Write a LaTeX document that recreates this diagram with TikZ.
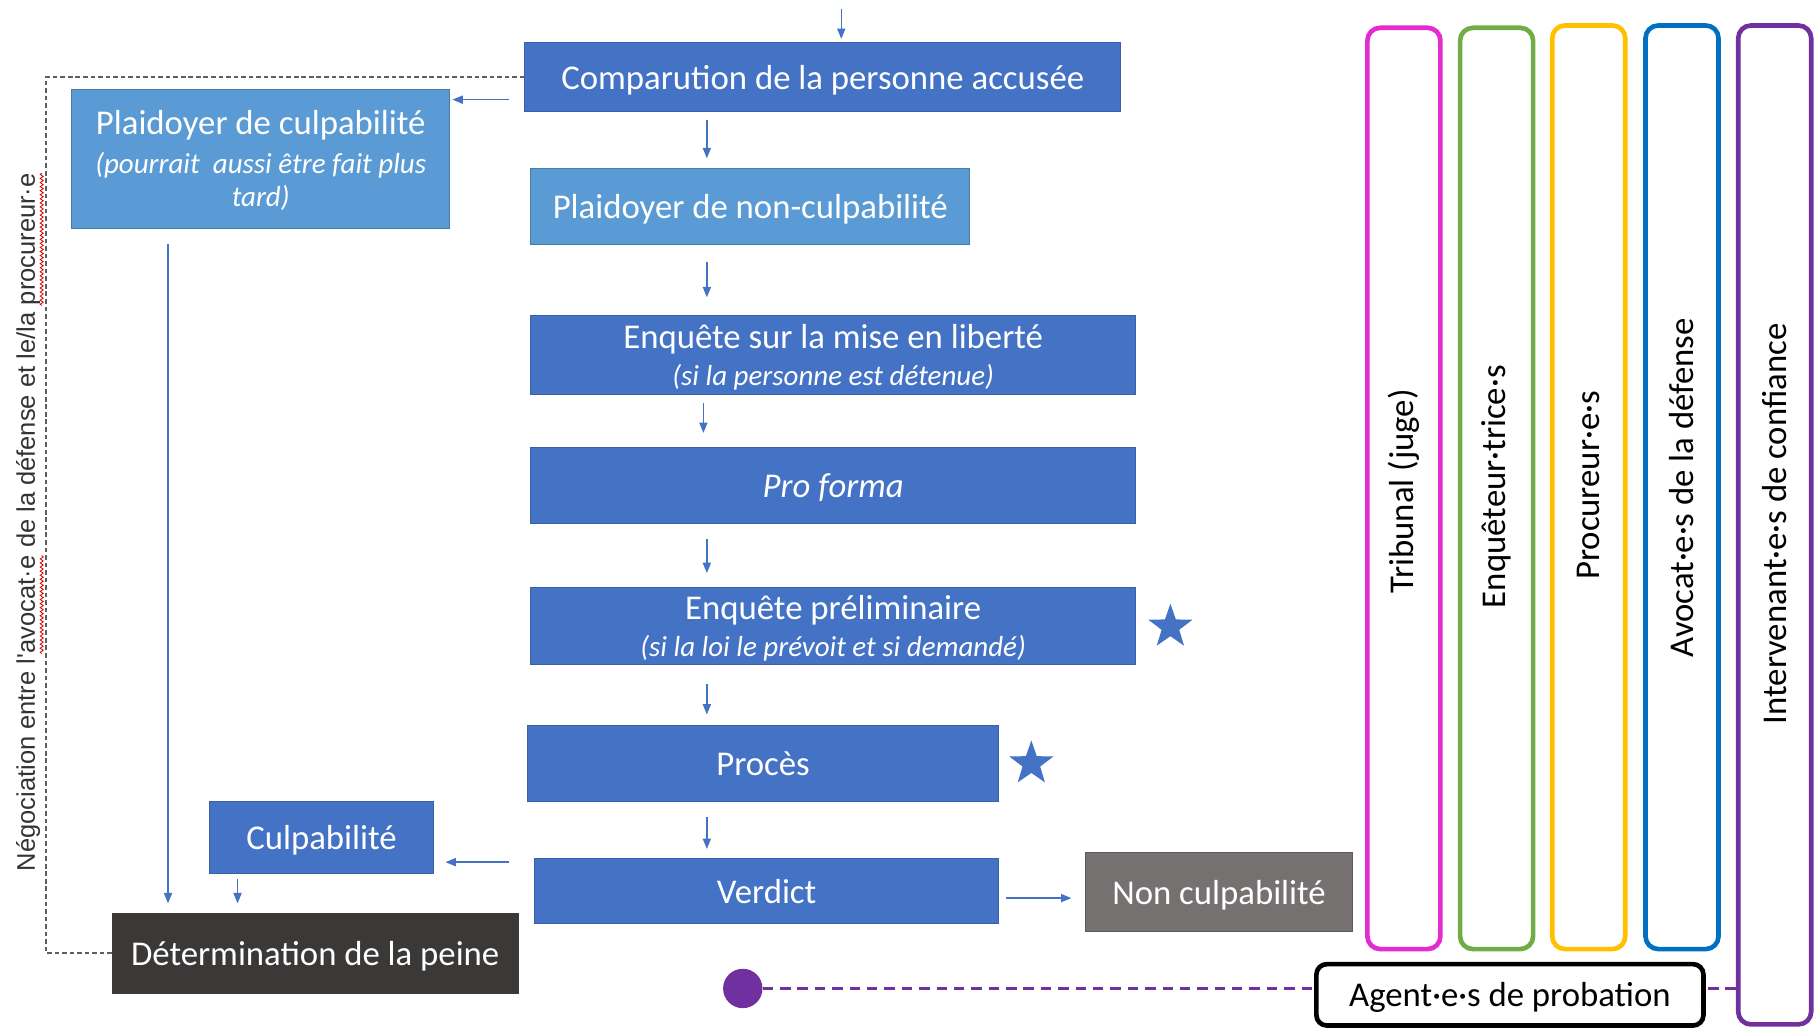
\documentclass[tikz,border=0pt]{standalone}
\usepackage{fontspec}
\setmainfont{Carlito}
\newfontfamily\arialf{Liberation Sans}
\usetikzlibrary{shapes.geometric,arrows.meta,calc,decorations.pathmorphing}
\definecolor{dblue}{HTML}{4472C4}
\definecolor{lblue}{HTML}{5B9BD5}
\definecolor{darkbox}{HTML}{3B3838}
\definecolor{graybox}{HTML}{767171}
\definecolor{magentaL}{HTML}{E42BD0}
\definecolor{greenL}{HTML}{70AD47}
\definecolor{yellowL}{HTML}{FFC000}
\definecolor{blueL}{HTML}{0070C0}
\definecolor{purpleL}{HTML}{7030A0}
\definecolor{negtext}{HTML}{333333}
\definecolor{dashgray}{HTML}{5F5F5F}
\newcommand\subtf{\fontsize{25}{30}\selectfont\itshape}
\begin{document}
\begin{tikzpicture}[x=1pt,y=-1pt,
  mainfont/.style={font=\fontsize{30}{34}\selectfont},
  box/.style={draw=dblue!85!black, line width=0.8pt, fill=dblue, text=white, inner sep=0pt, align=center, mainfont, text depth=0pt},
  lbox/.style={box, draw=lblue!80!black, fill=lblue},
  arr/.style={draw=dblue, line width=1.3pt, -{Triangle[length=9pt,width=7pt]}},
  lane/.style={draw=#1, line width=4pt, rounded corners=11pt, inner sep=0pt, minimum width=63pt},
  lanetext/.style={rotate=90, text=black, inner sep=0pt, mainfont},
  negt/.style={rotate=90, text=negtext, inner sep=0pt, font=\arialf\fontsize{22}{26}\selectfont},
  wavy/.style={draw=red!85!black, line width=0.7pt, decorate, decoration={snake, amplitude=1.3pt, segment length=3.5pt}},
  staricon/.style={star, star points=5, star point ratio=2.5, fill=dblue, inner sep=0pt, minimum size=40pt}
]
\useasboundingbox (0,0) rectangle (1568,888);
\clip (0,0) rectangle (1568,888);

% main flow boxes
\node[box, minimum width=514pt, minimum height=59pt] (comp) at (710,66.5) {Comparution de la personne accusée};
\node[lbox, minimum width=326pt, minimum height=120pt] (pcul) at (225,137)
  {Plaidoyer de culpabilité\\[-1pt]{\subtf (pourrait\ \ aussi être fait plus}\\[-5pt]{\subtf tard)}};
\node[lbox, minimum width=379pt, minimum height=66pt] (pnon) at (647.5,178) {Plaidoyer de non-culpabilité};
\node[box, minimum width=522pt, minimum height=68pt] (lib) at (719,306)
  {Enquête sur la mise en liberté\\[-2pt]{\subtf (si la personne est détenue)}};
\node[box, minimum width=522pt, minimum height=66pt] (prof) at (719,419) {\itshape Pro forma};
\node[box, minimum width=522pt, minimum height=66pt] (prel) at (719,540)
  {Enquête préliminaire\\[-2pt]{\subtf (si la loi le prévoit et si demandé)}};
\node[box, minimum width=407pt, minimum height=66pt] (proc) at (658.5,659) {Procès};
\node[box, minimum width=401pt, minimum height=56pt] (verd) at (661.5,769) {Verdict};
\node[box, minimum width=193pt, minimum height=62pt] (culp) at (277.5,723) {Culpabilité};
\node[box, draw=darkbox, fill=darkbox, minimum width=350pt, minimum height=69pt] (det) at (272,822.5) {Détermination de la peine};
\node[box, draw=graybox!80!black, fill=graybox, minimum width=230pt, minimum height=68pt] (non) at (1052,770) {Non culpabilité};

% stars
\node[staricon] (star1) at (1010,541) {};
\node[staricon] (star2) at (890,659) {};

% arrows
\coordinate (top) at (726,8);
\draw[arr, shorten >=3pt] (top) -- (top |- comp.north);
\draw[arr, shorten <=13pt, shorten >=2pt] ([shift={(0,19.5)}]comp.west) coordinate (s1) -- (s1 -| pcul.east);
\draw[arr, shorten <=7pt, shorten >=8pt] ([xshift=-100pt]comp.south) coordinate (s2) -- (s2 |- pnon.north);
\draw[arr, shorten <=15pt, shorten >=15pt] ([xshift=-37.5pt]pnon.south) coordinate (s3) -- (s3 |- lib.north);
\draw[arr, shorten <=7pt, shorten >=12pt] ([xshift=-112pt]lib.south) coordinate (s4) -- (s4 |- prof.north);
\draw[arr, shorten <=13pt, shorten >=12pt] ([xshift=-109pt]prof.south) coordinate (s5) -- (s5 |- prel.north);
\draw[arr, shorten <=17pt, shorten >=9pt] ([xshift=-109pt]prel.south) coordinate (s6) -- (s6 |- proc.north);
\draw[arr, shorten <=13pt, shorten >=8pt] ([xshift=-48.5pt]proc.south) coordinate (s7) -- (s7 |- verd.north);
\draw[arr, shorten <=21pt, shorten >=10pt] ([shift={(0,-25)}]verd.west) coordinate (s8) -- (s8 -| culp.east);
\draw[arr, shorten <=4pt, shorten >=8pt] ([xshift=-72.5pt]culp.south) coordinate (s9) -- (s9 |- det.north);
\draw[arr, shorten <=13pt, shorten >=8pt] ([xshift=-80pt]pcul.south) coordinate (s10) -- (s10 |- det.north);
\draw[arr, shorten <=6pt, shorten >=12pt] ([shift={(0,6)}]verd.east) coordinate (s11) -- (s11 -| non.west);

% negotiation dashed line
\draw[draw=dashgray, line width=1.6pt, dash pattern=on 4pt off 2.5pt] (comp.west) -- ++(-413,0) |- (det.west);

% negotiation text
\node[negt, anchor=base west] (n1) at (30,752) {Négociation entre l'};
\node[negt, anchor=base west] (n2) at (n1.base east) {avocat·e};
\node[negt, anchor=base west] (n3) at (n2.base east) {~de la défense et le/la};
\node[negt, anchor=base west] (n4) at (n3.base east) {~procureur·e};
\draw[wavy] ([xshift=6pt]n2.base west) -- ([xshift=6pt]n2.base east);
\draw[wavy] ([shift={(6,-6)}]n4.base west) -- ([xshift=6pt]n4.base east);

% lanes
\node[lane=magentaL, minimum height=795pt] (trib) at (1211.5,421.5) {};
\node[lane=greenL, minimum height=795pt] (enq) at (1291.5,421.5) {};
\node[lane=yellowL, minimum height=797pt] (procu) at (1371,420.5) {};
\node[lane=blueL, minimum height=797pt] (avoc) at (1451.5,420.5) {};
\node[lane=purpleL, minimum height=862pt] (interv) at (1531.5,453) {};
\node[lanetext] (tribt) at (1211.5,424) {Tribunal (juge)};
\node[lanetext] (enqt) at (1291.5,420) {Enquêteur·trice·s};
\node[lanetext] (procut) at (1371,419) {Procureur·e·s};
\node[lanetext] (avoct) at (1451.5,421) {Avocat·e·s de la défense};
\node[lanetext] (intervt) at (1531.5,452) {Intervenant·e·s de confiance};

% probation
\node[draw=black, line width=4pt, rounded corners=9pt, minimum width=334pt, minimum height=53pt, inner sep=0pt, mainfont, text depth=0pt, fill=white] (agent) at (1303,858.5) {Agent·e·s de probation};
\node[circle, fill=purpleL, minimum size=34pt, inner sep=0pt] (dot) at (641,853) {};
\draw[draw=purpleL, line width=2.5pt, dash pattern=on 9pt off 6pt] (dot.east) -- (dot -| agent.west);
\draw[draw=purpleL, line width=2.5pt, dash pattern=on 9pt off 6pt] ([xshift=2pt]dot -| agent.east) -- (dot -| interv.west);
\end{tikzpicture}
\end{document}
